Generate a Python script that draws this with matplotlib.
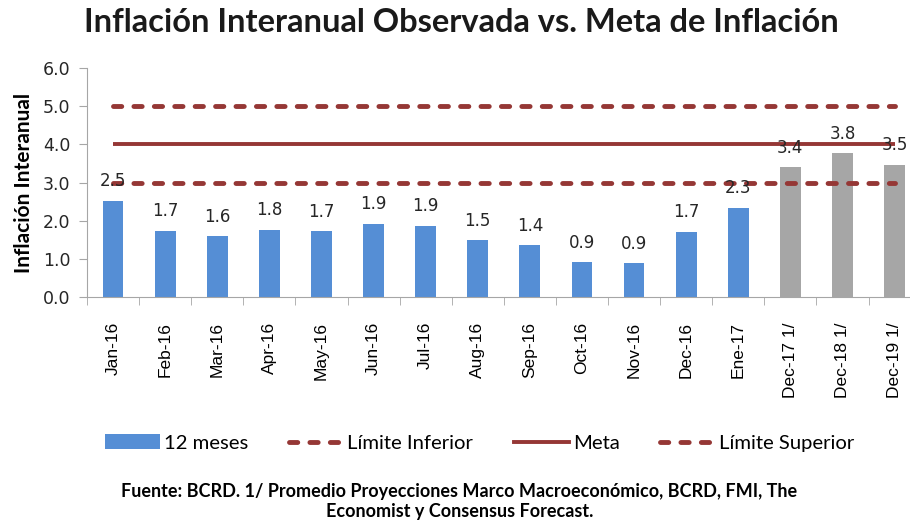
import matplotlib.pyplot as plt
from matplotlib.lines import Line2D
from matplotlib.patches import Patch

BLUE = "#558ED5"
GREY = "#A6A6A6"
RED = "#953735"
AXC = "#A6A6A6"

months = ["Jan-16", "Feb-16", "Mar-16", "Apr-16", "May-16", "Jun-16", "Jul-16", "Aug-16",
          "Sep-16", "Oct-16", "Nov-16", "Dec-16", "Ene-17", "Dec-17 1/", "Dec-18 1/", "Dec-19 1/"]
inflacion = [2.52, 1.74, 1.59, 1.76, 1.72, 1.92, 1.87, 1.49, 1.36, 0.91, 0.88, 1.71, 2.34, 3.40, 3.77, 3.46]
proyeccion = [False]*13 + [True]*3
lim_inf = 3.0
meta = 4.0
lim_sup = 5.0

fig = plt.figure(figsize=(9.1, 5.22), dpi=100, facecolor="white")
ax = fig.add_axes([87/910, 1-297/522, 16*52.1/910, (297-68)/522])

x = list(range(len(months)))
cols = [GREY if p else BLUE for p in proyeccion]
ax.bar(x, inflacion, width=0.4, color=cols, zorder=2)
for xi, v in zip(x, inflacion):
    ax.annotate(f"{v:.1f}", (xi, v), xytext=(0, 14), textcoords="offset points",
                ha="center", va="center", fontsize=12, color="#262626", zorder=4)

dash = (1.7, 2.5)
ax.plot([x[0], x[-1]], [lim_inf]*2, color=RED, lw=3.5, ls=(0, dash),
        dash_capstyle="round", zorder=3)
ax.plot([x[0], x[-1]], [meta]*2, color=RED, lw=2.8, solid_capstyle="butt", zorder=3)
ax.plot([x[0], x[-1]], [lim_sup]*2, color=RED, lw=3.5, ls=(0, dash),
        dash_capstyle="round", zorder=3)

ax.set_xlim(-0.5, len(months)-0.5)
ax.set_ylim(0, 6)
ax.set_yticks(range(7))
ax.set_yticklabels([f"{t:.1f}" for t in range(7)], fontsize=12.5, color="#262626")
ax.set_xticks([i+0.5 for i in x[:-1]] + [-0.5], minor=True)
ax.set_xticks(x)
ax.set_xticklabels(months, rotation=90, fontsize=12.5, family="Liberation Sans", color="black")
ax.tick_params(axis="x", which="major", length=0, pad=18)
ax.tick_params(axis="x", which="minor", length=6, color=AXC, direction="out")
ax.tick_params(axis="y", length=6, color=AXC, direction="out", pad=6)
for s in ["top", "right"]:
    ax.spines[s].set_visible(False)
for s in ["left", "bottom"]:
    ax.spines[s].set_color(AXC)
ax.set_ylabel("Inflación Interanual", fontsize=15, fontweight="bold", family="Lato", labelpad=6)

fig.text(0.507, 0.957, "Inflación Interanual Observada vs. Meta de Inflación", ha="center", va="center",
         fontsize=23.5, fontweight="bold", family="Lato", color="#1a1a1a")

handles = [Patch(facecolor=BLUE, edgecolor="none"),
           Line2D([], [], color=RED, lw=3.5, ls=(0, dash), dash_capstyle="round"),
           Line2D([], [], color=RED, lw=2.8),
           Line2D([], [], color=RED, lw=3.5, ls=(0, dash), dash_capstyle="round")]
labels = ["12 meses", "Límite Inferior", "Meta", "Límite Superior"]
fig.legend(handles, labels, loc="center", bbox_to_anchor=(0.527, 1-443/522), ncol=4, frameon=False,
           prop={"family": "Lato", "size": 14.6}, handlelength=2.7, handleheight=0.7,
           handletextpad=0.2, columnspacing=2.0)

fig.text(0.505, 1-492/522, "Fuente: BCRD. 1/ Promedio Proyecciones Marco Macroeconómico, BCRD, FMI, The",
         ha="center", va="center", fontsize=13, fontweight="bold", family="Lato")
fig.text(0.505, 1-512/522, "Economist y Consensus Forecast.",
         ha="center", va="center", fontsize=13, fontweight="bold", family="Lato")

fig.savefig("out.png", dpi=100, facecolor="white")
